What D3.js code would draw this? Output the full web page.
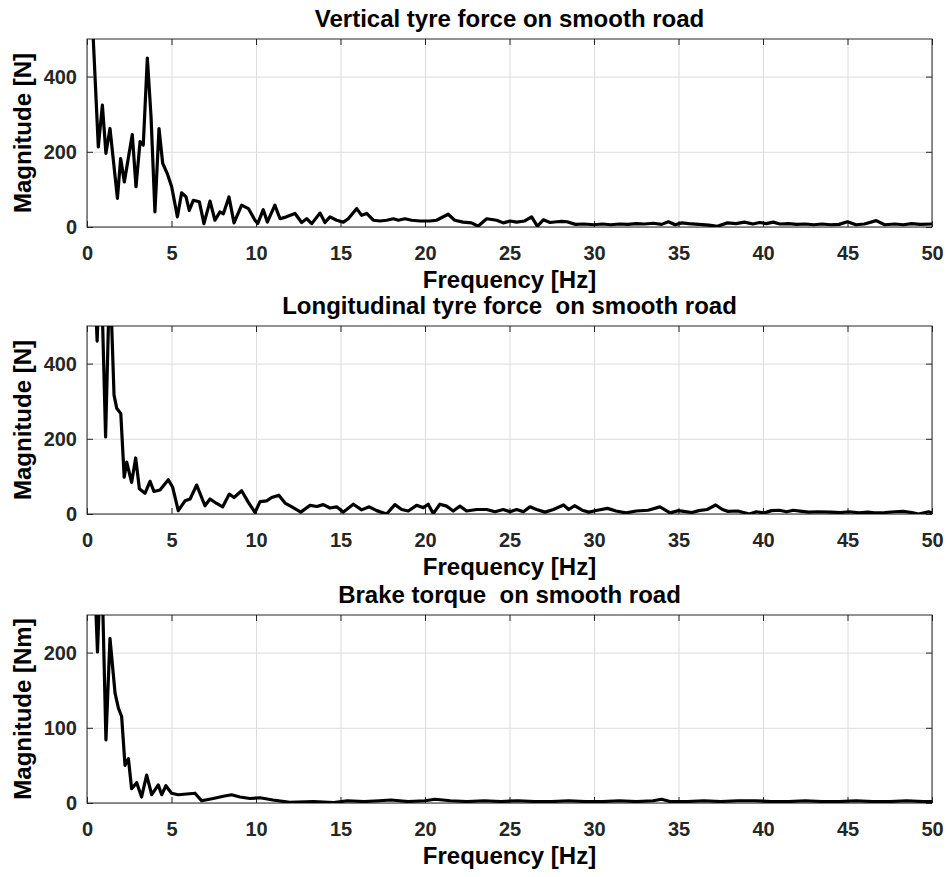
<!DOCTYPE html>
<html>
<head>
<meta charset="utf-8">
<script src="https://cdn.jsdelivr.net/npm/d3@7/dist/d3.min.js"></script>
<style>
    body { margin: 0; background: #fff; }
    svg text { font-family: Arial, "Liberation Sans", sans-serif; font-weight: bold; }
    .grid line { stroke: #dcdcdc; stroke-width: 1; }
    .grid path { display: none; }
    .axis path { display: none; }
    .axis line { stroke: #262626; }
    .axis text { fill: #262626; font-size: 20px; }
    .box { fill: none; stroke: #262626; stroke-width: 1; }
    .trace { fill: none; stroke: #000; stroke-width: 3.2; stroke-linejoin: round; }
    .chart-title, .axis-label { fill: #000; font-size: 24px; white-space: pre; }
</style>
</head>
<body>
<div id="chart"></div>
<script>
// frequency axis shared by the three plots
const xTickValues = [0, 5, 10, 15, 20, 25, 30, 35, 40, 45, 50];

const titles = ["Vertical tyre force on smooth road", "Longitudinal tyre force  on smooth road", "Brake torque  on smooth road"];
const yLabels = ["Magnitude [N]", "Magnitude [N]", "Magnitude [Nm]"];
const yDomains = [[0, 500], [0, 500], [0, 250]];
const yTickValues = [[0, 200, 400], [0, 200, 400], [0, 100, 200]];

// vertical tyre force spectrum
const freqVertical = [0, 0.35, 0.67, 0.91, 1.12, 1.36, 1.8, 1.99, 2.21, 2.68, 2.9, 3.14, 3.33, 3.57, 3.79, 4.02, 4.26, 4.48, 4.75, 5.01,
    5.35, 5.6, 5.86, 6.05, 6.29, 6.65, 6.92, 7.28, 7.57, 7.87, 8.07, 8.4, 8.7, 9.15, 9.55, 9.94, 10.1, 10.43, 10.67, 11.12,
    11.42, 11.8, 12.31, 12.7, 13.0, 13.3, 13.79, 14.08, 14.38, 14.77, 15.17, 15.46, 15.96, 16.25, 16.55, 16.94, 17.34, 17.73, 18.13, 18.42,
    18.81, 19.21, 19.7, 20.29, 20.68, 21.37, 21.76, 22.25, 22.75, 23.14, 23.65, 24.24, 24.63, 25.03, 25.42, 25.9, 26.31, 26.65, 27.0, 27.4,
    27.8, 28.1, 28.4, 28.9, 29.4, 30.0, 30.5, 31.0, 31.5, 32.0, 32.5, 33.0, 33.5, 34.0, 34.4, 34.8, 35.2, 35.6, 36.2, 36.8,
    37.3, 37.9, 38.4, 38.9, 39.4, 39.8, 40.2, 40.6, 41.0, 41.5, 42.0, 42.5, 43.0, 43.5, 44.0, 44.5, 45.0, 45.5, 46.0, 46.7,
    47.2, 47.8, 48.3, 48.8, 49.3, 50.0];
const magVertical = [1500, 520, 213, 324, 196, 262, 76, 182, 120, 246, 107, 227, 218, 449, 293, 40, 262, 169, 142, 107,
    27, 91, 80, 44, 71, 67, 9, 69, 18, 40, 35, 80, 11, 58, 49, 18, 9, 46, 13, 58,
    22, 27, 36, 12, 22, 9, 37, 12, 27, 18, 13, 22, 49, 31, 36, 18, 16, 18, 22, 18,
    22, 18, 16, 16, 18, 34, 18, 13, 11, 2, 22, 18, 11, 16, 13, 16, 27, 2, 19, 12,
    14, 15, 14, 7, 8, 6, 8, 6, 8, 7, 9, 8, 10, 7, 14, 6, 11, 9, 7, 5,
    2, 11, 9, 13, 8, 12, 9, 13, 8, 9, 7, 8, 6, 8, 6, 7, 14, 6, 8, 17,
    6, 8, 6, 9, 7, 8];

// longitudinal tyre force spectrum
const freqLongitudinal = [0, 0.45, 0.6, 0.8, 1.1, 1.35, 1.6, 1.76, 2.0, 2.2, 2.35, 2.64, 2.88, 3.1, 3.43, 3.73, 3.96, 4.32, 4.81, 5.07,
    5.4, 5.8, 6.1, 6.49, 6.98, 7.28, 7.67, 8.03, 8.42, 8.7, 9.15, 9.55, 9.94, 10.24, 10.63, 10.93, 11.35, 11.72, 12.15, 12.65,
    13.2, 13.6, 13.98, 14.38, 14.77, 15.17, 15.76, 16.25, 16.7, 17.14, 17.73, 18.22, 18.62, 19.01, 19.5, 19.9, 20.19, 20.49, 20.88, 21.28,
    21.67, 22.07, 22.46, 23.06, 23.65, 24.14, 24.63, 25.03, 25.42, 25.82, 26.21, 26.6, 27.1, 27.6, 28.2, 28.5, 28.85, 29.3, 29.7, 30.2,
    30.8, 31.3, 31.9, 32.5, 33.2, 33.9, 34.5, 35.0, 35.3, 35.8, 36.2, 36.7, 37.2, 37.6, 37.9, 38.5, 39.2, 39.6, 40.1, 40.5,
    40.96, 41.4, 41.8, 42.3, 42.7, 43.3, 44.0, 44.6, 45.1, 45.7, 46.2, 46.6, 47.2, 47.8, 48.3, 48.8, 49.2, 49.8, 50.0];
const magLongitudinal = [900, 620, 460, 720, 205, 650, 316, 281, 267, 98, 138, 84, 149, 67, 55, 87, 60, 64, 91, 71,
    9, 35, 40, 77, 22, 40, 28, 19, 53, 44, 62, 31, 4, 33, 35, 44, 50, 29, 18, 5,
    23, 20, 25, 16, 19, 5, 26, 11, 19, 9, 0, 25, 12, 8, 23, 17, 26, 1, 26, 21,
    8, 21, 8, 12, 12, 6, 12, 6, 12, 6, 19, 12, 5, 12, 24, 12, 22, 10, 5, 10,
    15, 8, 3, 8, 10, 19, 3, 9, 7, 4, 9, 12, 24, 12, 7, 8, 0, 6, 3, 9,
    10, 6, 10, 7, 5, 6, 5, 4, 6, 3, 5, 3, 4, 6, 7, 4, 0, 6, 3];

// brake torque spectrum
const freqBrake = [0, 0.4, 0.62, 0.85, 1.12, 1.36, 1.66, 1.86, 2.05, 2.25, 2.45, 2.64, 2.94, 3.23, 3.53, 3.83, 4.22, 4.42, 4.67, 5.0,
    5.4, 5.9, 6.39, 6.78, 7.47, 8.07, 8.55, 9.05, 9.64, 10.24, 11.0, 12.0, 13.4, 14.6, 15.4, 16.4, 17.3, 18.0, 19.0, 20.0,
    20.6, 21.5, 22.5, 23.5, 24.5, 25.5, 26.5, 27.5, 28.5, 29.5, 30.5, 31.5, 32.5, 33.5, 34.0, 34.5, 35.5, 36.5, 37.5, 38.5,
    39.5, 40.5, 41.5, 42.5, 43.5, 44.5, 45.5, 46.5, 47.5, 48.5, 49.5, 50.0];
const magBrake = [600, 330, 201, 340, 84, 219, 146, 126, 115, 50, 59, 19, 27, 8, 37, 11, 24, 11, 23, 13,
    11, 12, 13, 3, 6, 9, 11, 8, 6, 7, 4, 1, 2, 0.5, 3, 2, 3, 4, 2, 3,
    5, 3, 2, 3, 2, 3, 2, 2, 3, 2, 2, 3, 2, 3, 5, 2, 2, 3, 2, 3,
    3, 2, 2, 3, 2, 2, 3, 2, 2, 3, 2, 2];

const seriesFreq = [freqVertical, freqLongitudinal, freqBrake];
const seriesMag = [magVertical, magLongitudinal, magBrake];

class SpectrumPanel {
    constructor(_svg, _index, _top) {
        this.svg = _svg;
        this.index = _index;
        this.top = _top;
        this.data = seriesFreq[_index].map((f, i) => ({ freq: f, mag: seriesMag[_index][i] }));
        this.initVis();
    }

    initVis() {
        let vis = this;
        vis.left = 87;
        vis.width = 932 - 87;
        vis.height = 188;

        vis.g = vis.svg.append("g")
            .attr("transform", "translate(" + vis.left + "," + vis.top + ")");

        vis.x = d3.scaleLinear().domain([0, 50]).range([0, vis.width]);
        vis.y = d3.scaleLinear().domain(yDomains[vis.index]).range([vis.height, 0]);

        // grid
        vis.g.append("g").attr("class", "grid")
            .call(d3.axisBottom(vis.x).tickValues(xTickValues).tickSize(vis.height).tickFormat(""));
        vis.g.append("g").attr("class", "grid")
            .call(d3.axisLeft(vis.y).tickValues(yTickValues[vis.index]).tickSize(-vis.width).tickFormat(""));

        // axes with inward ticks on all sides
        vis.g.append("g").attr("class", "axis")
            .attr("transform", "translate(0," + vis.height + ")")
            .call(d3.axisBottom(vis.x).tickValues(xTickValues).tickSize(-6).tickPadding(19));
        vis.g.append("g").attr("class", "axis")
            .call(d3.axisTop(vis.x).tickValues(xTickValues).tickSize(-6).tickFormat(""));
        vis.g.append("g").attr("class", "axis")
            .call(d3.axisLeft(vis.y).tickValues(yTickValues[vis.index]).tickSize(-6).tickPadding(10));
        vis.g.append("g").attr("class", "axis")
            .attr("transform", "translate(" + vis.width + ",0)")
            .call(d3.axisRight(vis.y).tickValues(yTickValues[vis.index]).tickSize(-6).tickFormat(""));

        vis.g.append("rect").attr("class", "box")
            .attr("x", 0).attr("y", 0)
            .attr("width", vis.width).attr("height", vis.height);

        vis.g.append("clipPath").attr("id", "clip" + vis.index)
            .append("rect").attr("width", vis.width).attr("height", vis.height);

        vis.g.append("text").attr("class", "chart-title")
            .attr("x", vis.width / 2).attr("y", -12)
            .attr("text-anchor", "middle")
            .text(titles[vis.index]);

        vis.g.append("text").attr("class", "axis-label")
            .attr("x", vis.width / 2).attr("y", vis.height + 61)
            .attr("text-anchor", "middle")
            .text("Frequency [Hz]");

        vis.g.append("text").attr("class", "axis-label")
            .attr("transform", "translate(" + (31 - vis.left) + "," + (vis.height / 2) + ") rotate(-90)")
            .attr("text-anchor", "middle")
            .text(yLabels[vis.index]);

        vis.line = vis.g.append("path").attr("class", "trace")
            .attr("clip-path", "url(#clip" + vis.index + ")");

        vis.updateVis();
    }

    updateVis() {
        let vis = this;
        let lineFunc = d3.line()
            .x(d => vis.x(d.freq))
            .y(d => vis.y(d.mag));
        vis.line.datum(vis.data).attr("d", lineFunc);
    }
}

const svg = d3.select("#chart").append("svg")
    .attr("width", 947)
    .attr("height", 877);

const panelTops = [39, 326, 615];
panelTops.forEach((t, i) => new SpectrumPanel(svg, i, t));
</script>
</body>
</html>
